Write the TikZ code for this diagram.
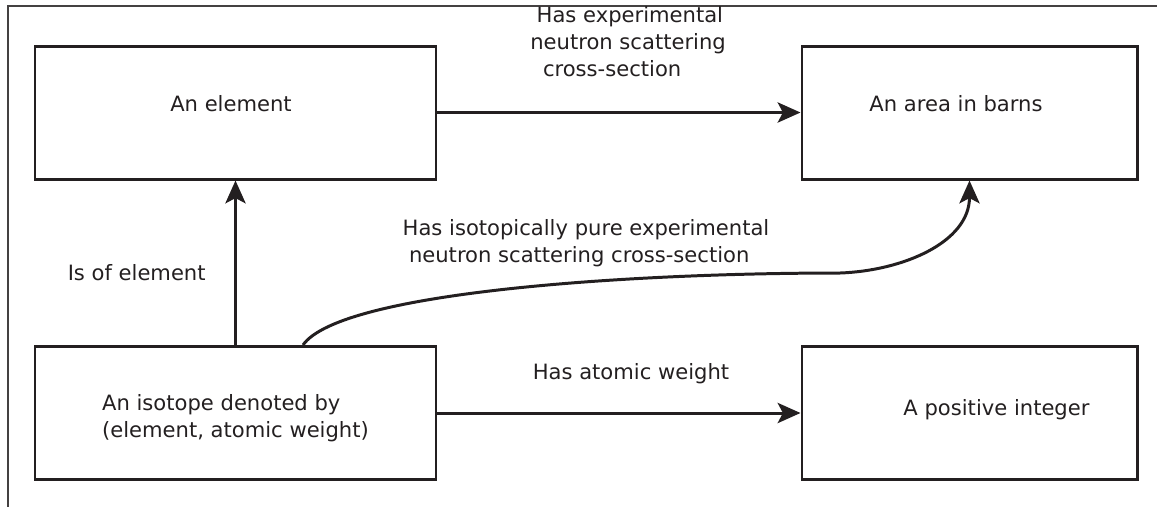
\documentclass[tikz,border=0pt]{standalone}
\usepackage{fontspec}
\setmainfont{DejaVu Sans}
\usetikzlibrary{arrows.meta}
\definecolor{figInk}{HTML}{231F20}

\begin{document}
\begin{tikzpicture}[
  every node/.style={font=\fontsize{12}{15.4}\selectfont, text=figInk},
  box/.style={draw=figInk, line width=1.7pt, minimum width=8.02cm,
             minimum height=2.66cm, inner sep=0pt},
  valbox/.style={box, minimum width=6.70cm},
  rel/.style={draw=figInk, line width=1.7pt,
             -{Stealth[length=13pt, width=11.5pt, inset=3pt]}},
  frameline/.style={draw=figInk!85, line width=0.6pt},
]
\useasboundingbox (0,0) rectangle (23.14,-10.12);

% Frame
\draw[frameline] (0.16,-10.3) -- (0.16,-0.12) -- (23.3,-0.12);

% Boxes
\node[box, label={[shift={(-0.09,0.17)}]center:An element}] (elem) at (4.71,-2.25) {};
\node[valbox, label={[shift={(-0.27,0.17)}]center:An area in barns}] (area) at (19.39,-2.25) {};
\node[box, label={[align=left, shift={(0.0,-0.10)}]center:An isotope denoted by\\(element, atomic weight)}] (iso) at (4.71,-8.26) {};
\node[valbox, label={[shift={(0.54,0.06)}]center:A positive integer}] (posint) at (19.39,-8.26) {};

% Relations
\draw[rel] (elem.east) -- (area.west)
  node[midway, anchor=west, align=left, xshift=-1.92cm, yshift=1.42cm]
  {\hspace*{0.3em}Has experimental\\neutron scattering\\\hspace*{0.6em}cross-section};
\draw[rel] (iso.north) -- (elem.south)
  node[midway, left=0.45cm, yshift=-0.19cm] {Is of element};
\draw[rel] (iso.east) -- (posint.west)
  node[midway, xshift=0.24cm, yshift=0.78cm] {Has atomic weight};
\coordinate (bend) at (16.8,-5.46);
\draw[rel] ([xshift=1.35cm]iso.north) to[out=55, in=180, out distance=1.3cm, in distance=4.2cm] (bend)
  to[out=2, in=-90] (area.south);
\node[align=left] (pureLbl) at (11.72,-4.87)
  {Has isotopically pure experimental\\\hspace*{0.3em}neutron scattering cross-section};

\end{tikzpicture}
\end{document}
